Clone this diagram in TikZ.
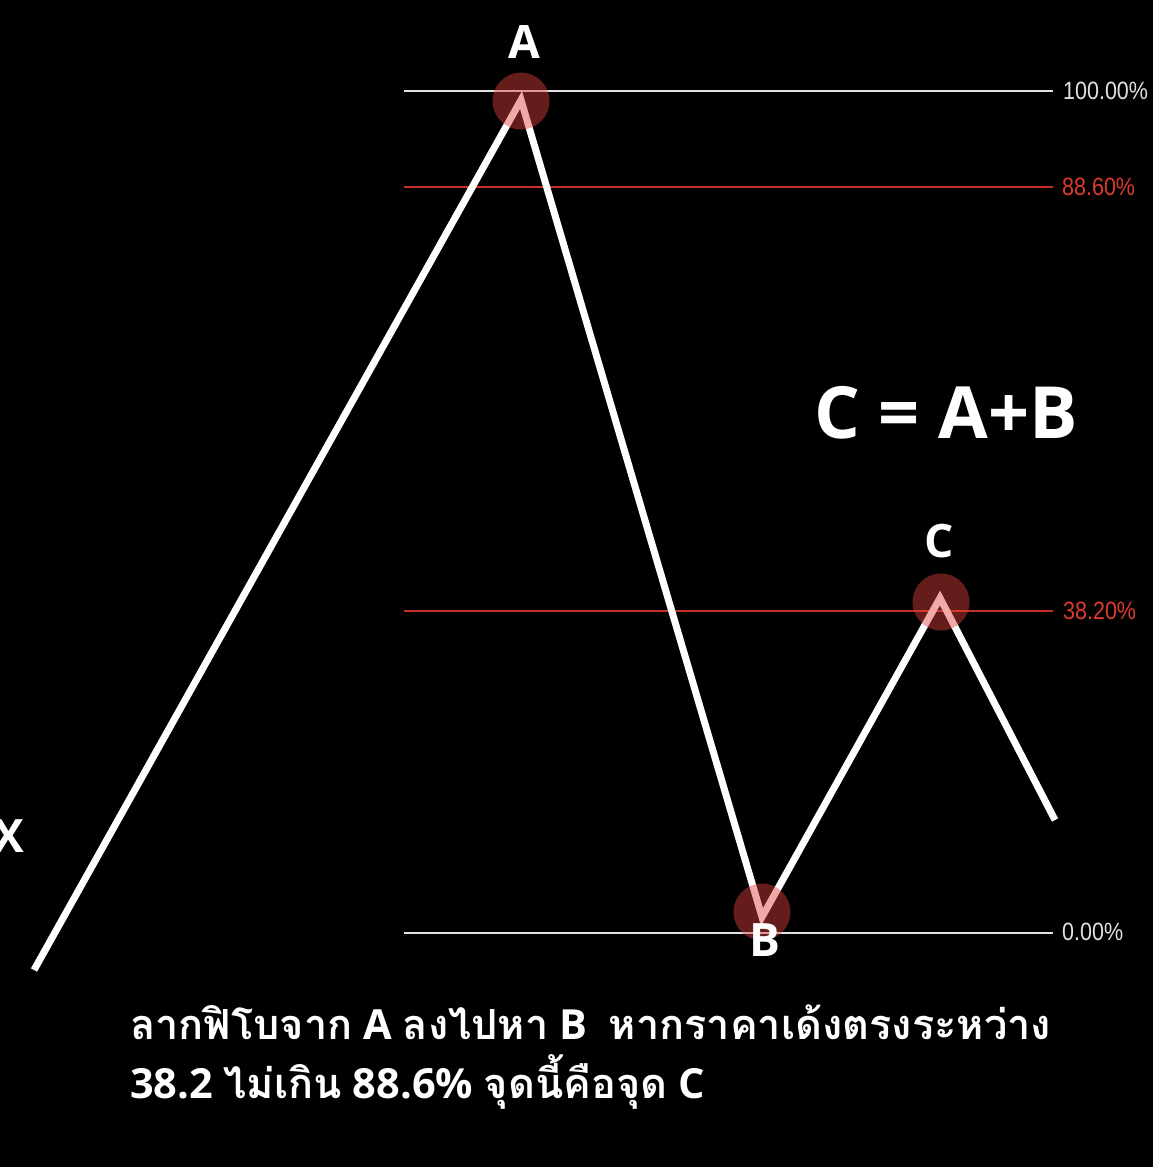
\documentclass[tikz,border=0pt]{standalone}
\usepackage{fontspec}
\setmainfont{Open Sans}
\newfontfamily\thaif[Script=Thai]{Loma}
\newfontfamily\labf{Liberation Sans}
\definecolor{fibred}{RGB}{200,48,38}
\definecolor{fibredtxt}{RGB}{222,58,45}
\definecolor{linegray}{RGB}{225,225,225}
\definecolor{dotred}{RGB}{222,66,62}
\begin{document}
\begin{tikzpicture}[x=1pt,y=-1pt,
  level/.style={line width=2pt},
  pct/.style={anchor=west,font=\labf\fontsize{25}{25}\selectfont,xscale=0.86,inner sep=0pt},
  wave/.style={line width=7pt,white,line join=miter,miter limit=20},
  dot/.style={circle,fill=dotred,fill opacity=0.45,minimum size=57pt,inner sep=0pt},
  ptlab/.style={text=white,font=\bfseries\fontsize{46}{46}\selectfont,inner sep=0pt},
  caption/.style={text=white,anchor=west,inner sep=0pt,font=\bfseries\fontsize{41.5}{48}\selectfont}]
\fill[black] (0,0) rectangle (1153,1167);
\useasboundingbox (0,0) rectangle (1153,1167);
% fib levels
\coordinate (l100a) at (404,91);  \coordinate (l100b) at (1053,91);
\coordinate (l886a) at (404,187); \coordinate (l886b) at (1053,187);
\coordinate (l382a) at (404,611); \coordinate (l382b) at (1053,611);
\coordinate (l0a) at (404,933);   \coordinate (l0b) at (1053,933);
\draw[level,linegray] (l100a) -- (l100b);
\draw[level,fibred] (l886a) -- (l886b);
\draw[level,fibred] (l382a) -- (l382b);
\draw[level,linegray] (l0a) -- (l0b);
\node[pct,text=linegray] (p100) at (1063,91) {100.00\%};
\node[pct,text=fibredtxt] (p886) at (1062,187) {88.60\%};
\node[pct,text=fibredtxt] (p382) at (1063,611) {38.20\%};
\node[pct,text=linegray] (p0) at (1062,932) {0.00\%};
% wave
\coordinate (X) at (34,970);
\coordinate (A) at (521,100);
\coordinate (B) at (762,917);
\coordinate (C) at (940,598);
\coordinate (E) at (1055,820);
\draw[wave] (X) -- (A) -- (B) -- (C) -- (E);
\node[dot] (dA) at (521,101) {};
\node[dot] (dB) at (762,912) {};
\node[dot] (dC) at (941,602) {};
% labels
\node[ptlab] (tA) at (524,42) {A};
\node[ptlab] (tB) at (765,940) {B};
\node[ptlab] (tC) at (939,541) {C};
\node[ptlab] (tX) at (9,836) {X};
\node[text=white,font=\bfseries\fontsize{72}{72}\selectfont,inner sep=0pt] (eq) at (946,413) {C = A+B};
% caption
\node[caption] (cap1) at (130,1022) {{\thaif\bfseries ลากฟิโบจาก} A {\thaif\bfseries ลงไปหา} B\ \ {\thaif\bfseries หากราคาเด้งตรงระหว่าง}};
\node[caption] (cap2) at (130,1082) {38.2 {\thaif\bfseries ไม่เกิน} 88.6\% {\thaif\bfseries จุดนี้คือจุด} C};
\end{tikzpicture}
\end{document}
